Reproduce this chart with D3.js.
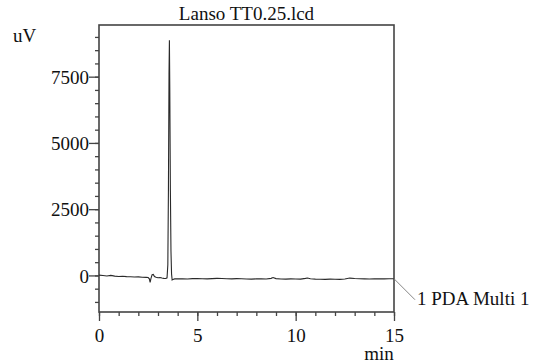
<!DOCTYPE html>
<html>
<head>
<meta charset="utf-8">
<script src="https://cdn.jsdelivr.net/npm/d3@7"></script>
<style>
  body { margin: 0; background: #fff; }
  text { font-family: "Liberation Serif", "Times New Roman", serif; fill: #111; }
</style>
</head>
<body>
<div id="chart-area"></div>
<script>
// chromatogram trace: retention time (min) and signal (uV)
const times = [
  0, 0.2, 0.4, 0.6, 0.8, 1.0, 1.2, 1.4, 1.6, 1.8, 2.0, 2.2, 2.4, 2.5, 2.56, 2.6, 2.64, 2.7, 2.76, 2.82,
  2.9, 3.0, 3.1, 3.2, 3.3, 3.4, 3.46, 3.5, 3.53, 3.56, 3.58, 3.6, 3.63, 3.66, 3.69, 3.72, 3.76, 3.85,
  4.0, 4.25, 4.5, 4.75, 5.0, 5.25, 5.5, 5.75, 6.0, 6.25, 6.5, 6.75, 7.0, 7.25, 7.5, 7.75, 8.0, 8.25,
  8.5, 8.75, 8.85, 9.0, 9.25, 9.5, 9.75, 10.0, 10.25, 10.5, 10.6, 10.75, 11.0, 11.25, 11.5, 11.75,
  12.0, 12.25, 12.5, 12.75, 13.0, 13.25, 13.5, 13.75, 14.0, 14.25, 14.5, 14.75, 15.0
];
const signal = [
  10, -5, -20, 0, -25, -40, -30, -45, -50, -60, -55, -70, -75, -80, -130, -260, -120, 30, 40, -40,
  -70, -85, -80, -100, -110, -115, -90, 400, 3200, 7600, 8870, 7000, 3200, 900, 50, -170, -150, -130,
  -130, -125, -135, -120, -115, -125, -130, -120, -110, -115, -125, -130, -120, -125, -135, -140, -130, -125,
  -135, -110, -80, -120, -135, -140, -130, -135, -140, -110, -95, -125, -140, -145, -150, -140,
  -145, -150, -135, -100, -115, -125, -130, -135, -130, -125, -130, -125, -125
];

const yMajor = [0, 2500, 5000, 7500];
const xMajor = [0, 5, 10, 15];

const title = 'Lanso TT0.25.lcd';
const seriesName = '1 PDA Multi 1';

const margin = { top: 25, right: 145, bottom: 51, left: 99 };
const width = 539 - margin.left - margin.right;
const height = 363 - margin.top - margin.bottom;

const svg = d3.select('#chart-area')
  .append('svg')
  .attr('width', 539)
  .attr('height', 363);

const g = svg.append('g')
  .attr('transform', `translate(${margin.left}, ${margin.top})`);

const x = d3.scaleLinear()
  .domain([0, 15])
  .range([0, width]);

const y = d3.scaleLinear()
  .domain([-1380, 9450])
  .range([height, 0]);

// minor ticks
g.append('g')
  .attr('class', 'y minor')
  .call(d3.axisLeft(y).tickValues(d3.range(-1000, 9001, 500)).tickSize(4).tickFormat(''));

g.append('g')
  .attr('class', 'x minor')
  .attr('transform', `translate(0, ${height})`)
  .call(d3.axisBottom(x).tickValues(d3.range(0, 16, 1)).tickSize(4).tickFormat(''));

// major ticks
const yAxisGroup = g.append('g')
  .attr('class', 'y axis')
  .call(d3.axisLeft(y).tickValues(yMajor).tickSize(10).tickPadding(0).tickFormat(d3.format('d')));

const xAxisGroup = g.append('g')
  .attr('class', 'x axis')
  .attr('transform', `translate(0, ${height})`)
  .call(d3.axisBottom(x).tickValues(xMajor).tickSize(9).tickPadding(5).tickFormat(d3.format('d')));

svg.selectAll('.domain').remove();
svg.selectAll('.tick line').attr('stroke', '#444').attr('stroke-width', 1.3);
svg.selectAll('.axis text')
  .attr('font-size', '19px')
  .attr('font-family', '"Liberation Serif", serif')
  .attr('fill', '#111');
yAxisGroup.selectAll('text').attr('dy', '0.35em');
xAxisGroup.selectAll('text').attr('dy', '0.85em');

// frame
g.append('rect')
  .attr('x', 0)
  .attr('y', 0)
  .attr('width', width)
  .attr('height', height)
  .attr('fill', 'none')
  .attr('stroke', '#444')
  .attr('stroke-width', 1.6);

// trace
const line = d3.line()
  .x((d, i) => x(times[i]))
  .y(d => y(d));

g.append('path')
  .datum(signal)
  .attr('fill', 'none')
  .attr('stroke', '#2a2a2a')
  .attr('stroke-width', 1.1)
  .attr('d', line);

// title
svg.append('text')
  .attr('x', margin.left + width / 2)
  .attr('y', 20)
  .attr('text-anchor', 'middle')
  .attr('font-size', '19px')
  .text(title);

// y unit
svg.append('text')
  .attr('x', 13)
  .attr('y', 42)
  .attr('font-size', '19px')
  .text('uV');

// x unit
svg.append('text')
  .attr('x', 379)
  .attr('y', 360)
  .attr('text-anchor', 'middle')
  .attr('font-size', '19px')
  .text('min');

// series label with leader line
const lastVal = signal[signal.length - 1];
g.append('line')
  .attr('x1', x(15))
  .attr('y1', y(lastVal))
  .attr('x2', x(15) + 21)
  .attr('y2', y(lastVal) + 21)
  .attr('stroke', '#777')
  .attr('stroke-width', 0.9);

g.append('text')
  .attr('x', x(15) + 23)
  .attr('y', y(lastVal) + 26)
  .attr('font-size', '19px')
  .text(seriesName);
</script>
</body>
</html>
